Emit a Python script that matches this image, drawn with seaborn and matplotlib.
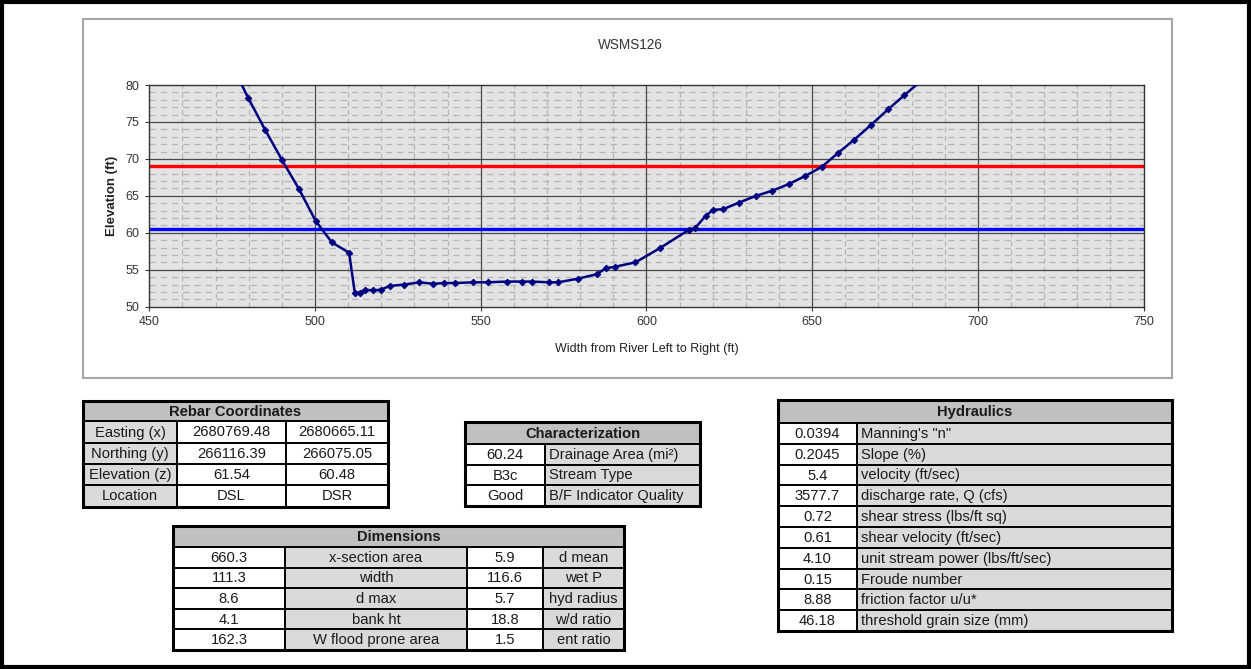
import numpy as np
import pandas as pd
import matplotlib
matplotlib.use("Agg")
import matplotlib.pyplot as plt
import seaborn as sns
from matplotlib.patches import Rectangle

# cross-section survey (station, elevation)
station = [476.5, 479.9, 485.0, 490.1, 495.2, 500.2, 505.1, 510.3, 512.0, 513.5,
           515.2, 517.5, 519.8, 522.6, 527.0, 531.5, 535.6, 539.0, 542.2, 547.7,
           552.2, 557.8, 562.6, 565.4, 570.6, 573.4, 579.4, 585.1, 587.7, 590.5,
           596.7, 604.0, 612.8, 614.8, 617.9, 620.1, 623.2, 628.0, 633.1, 638.0,
           643.0, 648.0, 653.0, 657.7, 662.7, 667.8, 672.9, 677.8, 683.5]
elevation = [81.3, 78.2, 73.9, 69.8, 65.9, 61.6, 58.7, 57.3, 51.9, 51.9,
             52.3, 52.2, 52.3, 52.8, 53.0, 53.3, 53.1, 53.2, 53.2, 53.3,
             53.3, 53.4, 53.4, 53.4, 53.3, 53.3, 53.8, 54.4, 55.2, 55.4,
             56.0, 57.9, 60.4, 60.7, 62.3, 63.1, 63.2, 64.1, 65.0, 65.7,
             66.6, 67.7, 68.95, 70.75, 72.6, 74.6, 76.7, 78.6, 80.8]
flood_prone_elev = 69.0
bankfull_elev = 60.5

chart_title = "WSMS126"
x_ticks = [450, 500, 550, 600, 650, 700, 750]
y_ticks = [50, 55, 60, 65, 70, 75, 80]

rebar_labels = ["Easting (x)", "Northing (y)", "Elevation (z)", "Location"]
rebar_dsl = ["2680769.48", "266116.39", "61.54", "DSL"]
rebar_dsr = ["2680665.11", "266075.05", "60.48", "DSR"]

char_values = ["60.24", "B3c", "Good"]
char_labels = ["Drainage Area (mi²)", "Stream Type", "B/F Indicator Quality"]

dim_values1 = ["660.3", "111.3", "8.6", "4.1", "162.3"]
dim_labels1 = ["x-section area", "width", "d max", "bank ht", "W flood prone area"]
dim_values2 = ["5.9", "116.6", "5.7", "18.8", "1.5"]
dim_labels2 = ["d mean", "wet P", "hyd radius", "w/d ratio", "ent ratio"]

hyd_values = ["0.0394", "0.2045", "5.4", "3577.7", "0.72", "0.61", "4.10", "0.15", "8.88", "46.18"]
hyd_labels = ['Manning\'s "n"', "Slope (%)", "velocity (ft/sec)", "discharge rate, Q (cfs)",
              "shear stress (lbs/ft sq)", "shear velocity (ft/sec)",
              "unit stream power (lbs/ft/sec)", "Froude number",
              "friction factor u/u*", "threshold grain size (mm)"]

sns.set_style("white")
plt.rcParams["font.family"] = ["Liberation Sans", "DejaVu Sans"]

W, H = 1251, 669
fig = plt.figure(figsize=(W / 100, H / 100), dpi=100)
fig.patch.set_facecolor("white")

# overlay in pixel coords for frames and tables
ov = fig.add_axes([0, 0, 1, 1], zorder=0)
ov.set_xlim(0, W)
ov.set_ylim(H, 0)
ov.axis("off")
ov.add_patch(Rectangle((2, 2), W - 4, H - 4, fill=False, ec="black", lw=3))
ov.add_patch(Rectangle((83, 19), 1172 - 83, 378 - 19, fill=False, ec="#a6a6a6", lw=1.5))

# chart
px_l, px_r, px_t, px_b = 149.3, 1143.5, 85.0, 306.7
ax = fig.add_axes([px_l / W, 1 - px_b / H, (px_r - px_l) / W, (px_b - px_t) / H], zorder=1)
ax.set_facecolor("#e3e3e3")

for xv in range(460, 750, 10):
    if xv % 50:
        ax.axvline(xv, color="#b5b5b5", lw=0.9, ls=(0, (4, 3)), zorder=0)
for yv in range(51, 80):
    if yv % 5:
        ax.axhline(yv, color="#b5b5b5", lw=0.9, ls=(0, (5, 4)), zorder=0)
for xv in x_ticks[1:-1]:
    ax.axvline(xv, color="#4a4a4a", lw=0.9, zorder=1)
for yv in y_ticks[1:-1]:
    ax.axhline(yv, color="#4a4a4a", lw=0.9, zorder=1)

ax.axhline(flood_prone_elev, color="#ff0000", lw=2.4, zorder=2)
ax.axhline(bankfull_elev, color="#0000ff", lw=2.4, zorder=2)

profile = pd.DataFrame({"station": station, "elevation": elevation})
sns.lineplot(data=profile, x="station", y="elevation", sort=False, ax=ax,
             color="#000080", lw=1.8, marker="D", markersize=3.3,
             markeredgecolor="#000080", zorder=3)

ax.set_xlim(450, 750)
ax.set_ylim(50, 80)
ax.set_xticks(x_ticks)
ax.set_yticks(y_ticks)
ax.tick_params(axis="both", labelsize=9, length=3, width=0.8, colors="#333333",
               direction="out", pad=4, bottom=True, left=True)
for s in ax.spines.values():
    s.set_color("#333333")
    s.set_linewidth(1.0)
ax.set_xlabel("Width from River Left to Right (ft)", fontsize=9, color="#222222")
ax.set_ylabel("Elevation (ft)", fontsize=9.5, color="#222222", fontweight="bold")
ax.xaxis.set_label_coords(0.5, -0.165)
ax.yaxis.set_label_coords(-0.031, 0.5)
fig.text(630 / W, 1 - 45 / H, chart_title, ha="center", va="center", fontsize=9.8, color="#333333")

HEAD = "#c0c0c0"
LAB = "#dadada"
VAL = "white"
FS = 10.6


def draw_table(xs, ys, title, columns, fills, aligns):
    # header row
    ov.add_patch(Rectangle((xs[0], ys[0]), xs[-1] - xs[0], ys[1] - ys[0], fc=HEAD, ec="none"))
    ov.text((xs[0] + xs[-1]) / 2, (ys[0] + ys[1]) / 2 + 0.5, title, ha="center", va="center",
            fontsize=FS, fontweight="bold", color="#1a1a1a")
    for ci, col in enumerate(columns):
        for ri, txt in enumerate(col):
            y0, y1 = ys[ri + 1], ys[ri + 2]
            ov.add_patch(Rectangle((xs[ci], y0), xs[ci + 1] - xs[ci], y1 - y0, fc=fills[ci], ec="none"))
            if aligns[ci] == "left":
                ov.text(xs[ci] + 4, (y0 + y1) / 2 + 0.5, txt, ha="left", va="center",
                        fontsize=FS, color="#1a1a1a")
            else:
                ov.text((xs[ci] + xs[ci + 1]) / 2, (y0 + y1) / 2 + 0.5, txt, ha="center",
                        va="center", fontsize=FS, color="#1a1a1a")
    for yv in ys[1:-1]:
        ov.plot([xs[0], xs[-1]], [yv, yv], color="black", lw=1.4)
    for xv in xs[1:-1]:
        ov.plot([xv, xv], [ys[1], ys[-1]], color="black", lw=1.4)
    ov.add_patch(Rectangle((xs[0], ys[0]), xs[-1] - xs[0], ys[-1] - ys[0], fill=False,
                           ec="black", lw=2.2))


draw_table([83, 177, 286, 388], [401, 421, 443, 464, 485, 507], "Rebar Coordinates",
           [rebar_labels, rebar_dsl, rebar_dsr], [LAB, VAL, VAL], ["center"] * 3)
draw_table([465, 545, 700], [422, 444, 465, 485, 506], "Characterization",
           [char_values, char_labels], [VAL, LAB], ["center", "left"])
draw_table([173, 285, 467, 543, 624], [526, 547, 568, 588, 609, 629, 650], "Dimensions",
           [dim_values1, dim_labels1, dim_values2, dim_labels2], [VAL, LAB, VAL, LAB],
           ["center"] * 4)
hyd_ys = [400] + list(np.linspace(423, 631, 11))
draw_table([778, 857, 1172], hyd_ys, "Hydraulics",
           [hyd_values, hyd_labels], [VAL, LAB], ["center", "left"])

fig.savefig("out.png", dpi=100)
